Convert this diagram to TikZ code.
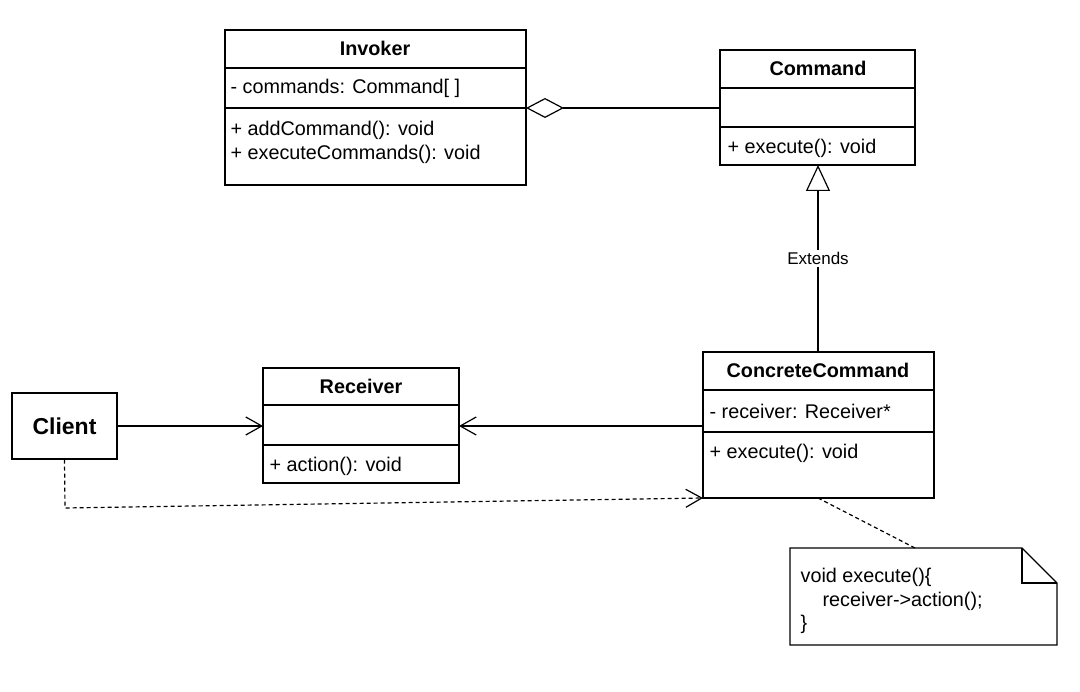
\documentclass[tikz,border=0pt]{standalone}
\usepackage{fontspec}
\setmainfont{Liberation Sans}
\usetikzlibrary{arrows.meta}
\begin{document}
\begin{tikzpicture}[x=1pt,y=-1pt,line width=1.2pt,
  t/.style={font=\fontsize{19.8}{23.5}\selectfont,anchor=west,inner sep=0},
  h/.style={font=\fontsize{19.8}{23.5}\selectfont\bfseries,inner sep=0},
  open/.style={-{Straight Barb[length=16pt,width=18pt,line width=1.2pt]}}]
\useasboundingbox (0,0) rectangle (1080,692);
% Invoker
\draw (225,30) rectangle (526,185); \draw (225,68)--(526,68); \draw (225,108)--(526,108);
\node[h] (inv) at (375,48) {Invoker};
\node[t] at (230,88) {- commands: Command[ ]};
\node[t] at (230,130) {+ addCommand(): void};
\node[t] at (230,154) {+ executeCommands(): void};
\coordinate (invR) at (526,108);
% Command
\draw (720,50) rectangle (915,165); \draw (720,88)--(915,88); \draw (720,127)--(915,127);
\node[h] (cmd) at (818,68) {Command};
\node[t] at (727,148) {+ execute(): void};
\coordinate (cmdL) at (720,108); \coordinate (cmdB) at (818,165);
% ConcreteCommand
\draw (703,352) rectangle (934,498); \draw (703,390)--(934,390); \draw (703,432)--(934,432);
\node[h] (cc) at (818,370) {ConcreteCommand};
\node[t] at (709,411) {- receiver: Receiver*};
\node[t] at (709,453) {+ execute(): void};
\coordinate (ccT) at (818,352); \coordinate (ccL) at (703,426);
\coordinate (ccB) at (818,498); \coordinate (ccBL) at (703,498);
% Receiver
\draw (263,368) rectangle (459,483); \draw (263,405)--(459,405); \draw (263,445)--(459,445);
\node[h] (rec) at (361,386) {Receiver};
\node[t] at (269,466) {+ action(): void};
\coordinate (recL) at (263,426); \coordinate (recR) at (459,426);
% Client
\node[draw,minimum width=105pt,minimum height=66pt,inner sep=0,font=\fontsize{23}{27}\selectfont\bfseries] (cl) at (64.5,426) {Client};
% Note
\draw (790,548) -- (1022,548) -- (1057,583) -- (1057,645) -- (790,645) -- cycle;
\draw (1022,548) -- (1022,583) -- (1057,583);
\node[t,align=left] (note) at (800,601) {void execute()\{\\\hspace*{22pt}receiver->action();\\\}};
\coordinate (noteT) at (915,548);
% connectors
\draw[{Diamond[open,length=38pt,width=20pt,line width=1.2pt]}-] (invR) -- (cmdL);
\draw[-{Triangle[open,length=26pt,width=24pt,line width=1.2pt]}] (ccT) -- node[fill=white,inner sep=2pt,font=\fontsize{17}{20}\selectfont,pos=0.5] {Extends} (cmdB);
\draw[open] (cl.east) -- (recL);
\draw[open] (ccL) -- (recR);
\draw[open,dashed,dash pattern=on 4pt off 3pt] (cl.south) -- (65,508) -- (ccBL);
\draw[dashed,dash pattern=on 4pt off 3pt] (ccB) -- (noteT);
\end{tikzpicture}
\end{document}
